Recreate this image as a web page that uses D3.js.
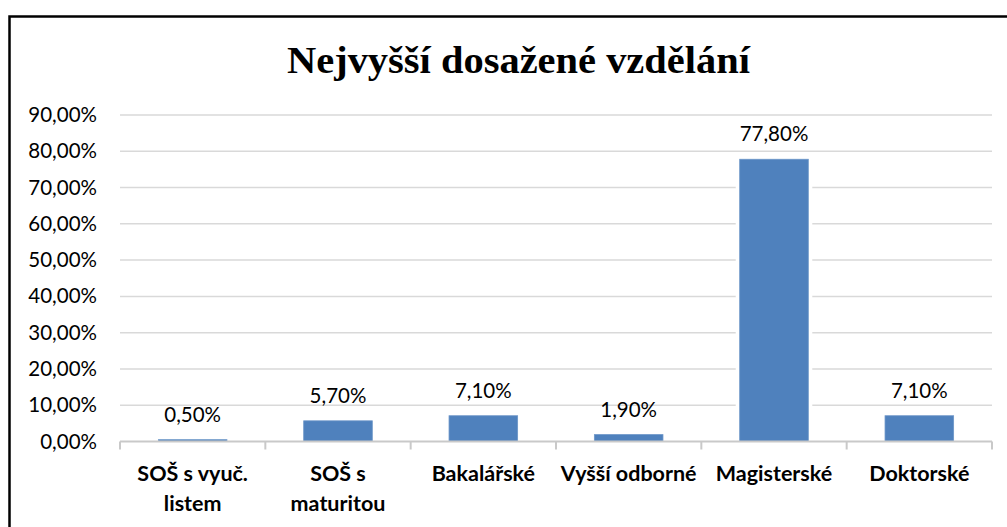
<!DOCTYPE html>
<html>
<head>
<meta charset="utf-8">
<script src="https://cdn.jsdelivr.net/npm/d3@7"></script>
<style>
  body { margin: 0; background: #fff; }
  svg { display: block; }
</style>
</head>
<body>
<svg id="chart" width="1007" height="527"></svg>
<script>
// data
const categories = ["SOŠ s vyuč. listem", "SOŠ s maturitou", "Bakalářské", "Vyšší odborné", "Magisterské", "Doktorské"];
const tickLines = [["SOŠ s vyuč.", "listem"], ["SOŠ s", "maturitou"], ["Bakalářské"], ["Vyšší odborné"], ["Magisterské"], ["Doktorské"]];
const values = [0.5, 5.7, 7.1, 1.9, 77.8, 7.1];
const yTicks = [0, 10, 20, 30, 40, 50, 60, 70, 80, 90];
const title = "Nejvyšší dosažené vzdělání";

const svg = d3.select("#chart");
const plotLeft = 120, plotRight = 992, plotTop = 115, plotBottom = 441.5;
const labelFont = "Lato, 'Open Sans', sans-serif";

const fmt = v => v.toFixed(2).replace(".", ",") + "%";

const x = d3.scaleBand().domain(categories).range([plotLeft, plotRight]).padding(0);
const y = d3.scaleLinear().domain([0, 90]).range([plotBottom, plotTop]);
const barW = x.bandwidth() * 0.472;

// outer frame
svg.append("rect")
  .attr("x", 9.5).attr("y", 16.5)
  .attr("width", 1100).attr("height", 600)
  .attr("fill", "none").attr("stroke", "#000").attr("stroke-width", 2.5);

// title
svg.append("text")
  .attr("x", 518.5).attr("y", 73)
  .attr("text-anchor", "middle")
  .attr("font-family", "'Liberation Serif', 'DejaVu Serif', serif")
  .attr("font-weight", "bold")
  .attr("font-size", 37)
  .attr("textLength", 463)
  .attr("lengthAdjust", "spacingAndGlyphs")
  .text(title);

// gridlines
svg.append("g").selectAll("line")
  .data(yTicks.filter(t => t > 0))
  .join("line")
  .attr("x1", plotLeft).attr("x2", plotRight)
  .attr("y1", d => y(d)).attr("y2", d => y(d))
  .attr("stroke", "#d9d9d9").attr("stroke-width", 1.5);

// y axis labels
const yAxis = svg.append("g")
  .attr("transform", `translate(${plotLeft},0)`)
  .call(d3.axisLeft(y).tickValues(yTicks).tickFormat(fmt).tickSize(0).tickPadding(23));
yAxis.select(".domain").remove();
yAxis.selectAll("text")
  .attr("font-family", labelFont)
  .attr("font-size", 20.5)
  .attr("fill", "#000");

// bars (white gap around like in the original)
const bars = svg.append("g");
bars.selectAll("rect.gap")
  .data(values)
  .join("rect")
  .attr("class", "gap")
  .attr("x", (d, i) => x(categories[i]) + (x.bandwidth() - barW) / 2 - 4)
  .attr("y", d => y(d))
  .attr("width", barW + 8)
  .attr("height", d => plotBottom - y(d))
  .attr("fill", "#fff");
bars.selectAll("rect.bar")
  .data(values)
  .join("rect")
  .attr("class", "bar")
  .attr("x", (d, i) => x(categories[i]) + (x.bandwidth() - barW) / 2)
  .attr("y", d => y(d))
  .attr("width", barW)
  .attr("height", d => plotBottom - y(d))
  .attr("fill", "#4f81bd")
  .attr("stroke", "#6b95c8")
  .attr("stroke-width", 0.8);

// x axis
const xAxis = svg.append("g")
  .attr("transform", `translate(0,${plotBottom})`)
  .call(d3.axisBottom(x).tickSize(0).tickFormat(""));
xAxis.select(".domain")
  .attr("d", `M${plotLeft},0H${plotRight}`)
  .attr("stroke", "#c9c9c9").attr("stroke-width", 2);
xAxis.selectAll(".tick").remove();

// tick marks at category borders
const borders = categories.map(c => x(c)).concat([plotRight]);
svg.append("g").selectAll("line")
  .data(borders)
  .join("line")
  .attr("x1", d => d).attr("x2", d => d)
  .attr("y1", plotBottom).attr("y2", plotBottom + 8)
  .attr("stroke", "#c9c9c9").attr("stroke-width", 2);

// category labels
const catG = svg.append("g");
categories.forEach((c, i) => {
  const t = catG.append("text")
    .attr("x", x(c) + x.bandwidth() / 2)
    .attr("y", 481)
    .attr("text-anchor", "middle")
    .attr("font-family", labelFont)
    .attr("font-weight", "bold")
    .attr("font-size", 21.5)
    .attr("fill", "#000");
  tickLines[i].forEach((ln, j) => {
    t.append("tspan")
      .attr("x", x(c) + x.bandwidth() / 2)
      .attr("dy", j === 0 ? 0 : 30)
      .text(ln);
  });
});

// data labels
svg.append("g").selectAll("text")
  .data(values)
  .join("text")
  .attr("x", (d, i) => x(categories[i]) + x.bandwidth() / 2)
  .attr("y", d => y(d) - 18)
  .attr("text-anchor", "middle")
  .attr("font-family", labelFont)
  .attr("font-size", 20.5)
  .attr("fill", "#000")
  .text(fmt);
</script>
</body>
</html>
